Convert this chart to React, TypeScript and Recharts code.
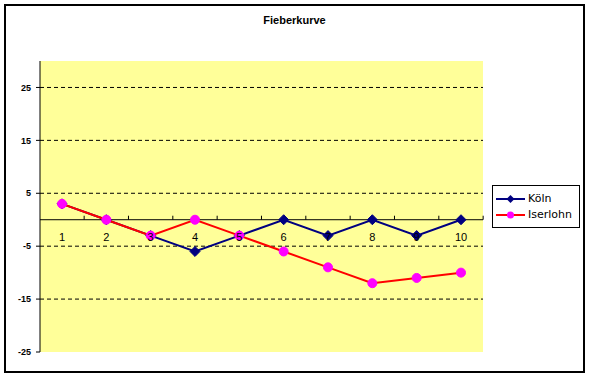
import React from "react";
import {
  LineChart,
  Line,
  XAxis,
  YAxis,
  CartesianGrid,
  ReferenceLine,
  ReferenceDot,
} from "recharts";

const days = [1, 2, 3, 4, 5, 6, 7, 8, 9, 10];
const koeln = [3, 0, -3, -6, -3, 0, -3, 0, -3, 0];
const iserlohn = [3, 0, -3, 0, -3, -6, -9, -12, -11, -10];
const yTicks = [-25, -15, -5, 5, 15, 25];
const gridLines = [-15, -5, 5, 15, 25];

const data = days.map((d, i) => ({ day: d, koeln: koeln[i], iserlohn: iserlohn[i] }));

const FONT = "'Liberation Sans', Arial, sans-serif";
const NAVY = "#000080";
const RED = "#FF0000";
const MAGENTA = "#FF00FF";

// diamond marker for Köln
const Diamond = (props: any) => {
  const { cx, cy } = props;
  if (cx == null || cy == null) return null;
  const s = 5;
  return (
    <polygon
      points={`${cx},${cy - s} ${cx + s},${cy} ${cx},${cy + s} ${cx - s},${cy}`}
      fill={NAVY}
      stroke={NAVY}
    />
  );
};

const Circle = (props: any) => {
  const { cx, cy } = props;
  if (cx == null || cy == null) return null;
  return <circle cx={cx} cy={cy} r={4.5} fill={MAGENTA} stroke={MAGENTA} />;
};

// category label + tick mark sitting on the zero line (Excel axis crossing at 0)
const AxisMark = (props: any) => {
  const { cx, cy, label } = props;
  if (cx == null || cy == null) return null;
  const half = 22.15;
  return (
    <g>
      <line x1={cx + half} x2={cx + half} y1={cy} y2={cy - 4} stroke="#000" />
      <text
        x={cx}
        y={cy + 21}
        textAnchor="middle"
        fontSize={11}
        fontFamily={FONT}
        fill="#000"
      >
        {label}
      </text>
    </g>
  );
};

const LegendBox = () => {
  const items = [
    { name: "Köln", color: NAVY, marker: "diamond" },
    { name: "Iserlohn", color: RED, marker: "circle" },
  ];
  return (
    <div
      style={{
        position: "absolute",
        left: 492,
        top: 185,
        width: 88,
        boxSizing: "border-box",
        border: "1px solid #000",
        background: "#fff",
        padding: "5px 2px 4px 3px",
        fontFamily: "'DejaVu Sans', sans-serif",
        fontSize: 11,
        lineHeight: "16px",
      }}
    >
      {items.map((it) => (
        <div key={it.name} style={{ display: "flex", alignItems: "center" }}>
          <svg width={30} height={16} style={{ marginRight: 2 }}>
            <line x1={0} x2={29} y1={8} y2={8} stroke={it.color} strokeWidth={2} />
            {it.marker === "diamond" ? (
              <polygon points="14.5,4 18.5,8 14.5,12 10.5,8" fill={NAVY} />
            ) : (
              <circle cx={14.5} cy={8} r={3.5} fill={MAGENTA} />
            )}
          </svg>
          <span>{it.name}</span>
        </div>
      ))}
    </div>
  );
};

export default function App() {
  return (
    <div style={{ position: "absolute", left: 0, top: 0, width: 589, height: 378, background: "#fff" }}>
      <div
        style={{
          position: "absolute",
          left: 4,
          top: 4,
          width: 581,
          height: 369,
          boxSizing: "border-box",
          border: "2px solid #000",
        }}
      />
      <div
        style={{
          position: "absolute",
          left: 0,
          top: 14,
          width: 589,
          textAlign: "center",
          fontFamily: FONT,
          fontWeight: "bold",
          fontSize: 11,
        }}
      >
        Fieberkurve
      </div>
      <LineChart
        width={589}
        height={378}
        data={data}
        margin={{ top: 61, right: 106, bottom: 26, left: 0 }}
      >
        <CartesianGrid
          vertical={false}
          horizontalValues={gridLines}
          stroke="#000"
          strokeDasharray="4 3"
          fill="#FFFF99"
          fillOpacity={1}
        />
        <XAxis dataKey="day" hide padding={{ left: 22, right: 22 }} />
        <YAxis
          width={40}
          domain={[-25, 30]}
          ticks={yTicks}
          allowDataOverflow
          stroke="#000"
          tickSize={4}
          tickMargin={5}
          tick={{ fontSize: 9, fontWeight: "bold", fill: "#000", fontFamily: FONT }}
        />
        <ReferenceLine y={0} stroke="#000" strokeWidth={1} />
        <Line
          dataKey="koeln"
          name="Köln"
          stroke={NAVY}
          strokeWidth={2}
          dot={<Diamond />}
          isAnimationActive={false}
        />
        <Line
          dataKey="iserlohn"
          name="Iserlohn"
          stroke={RED}
          strokeWidth={2}
          dot={<Circle />}
          isAnimationActive={false}
        />
        {days.map((d) => (
          <ReferenceDot
            key={d}
            x={d}
            y={0}
            zIndex={1000}
            shape={(p: any) => <AxisMark {...p} label={d} />}
          />
        ))}
      </LineChart>
      <LegendBox />
    </div>
  );
}
